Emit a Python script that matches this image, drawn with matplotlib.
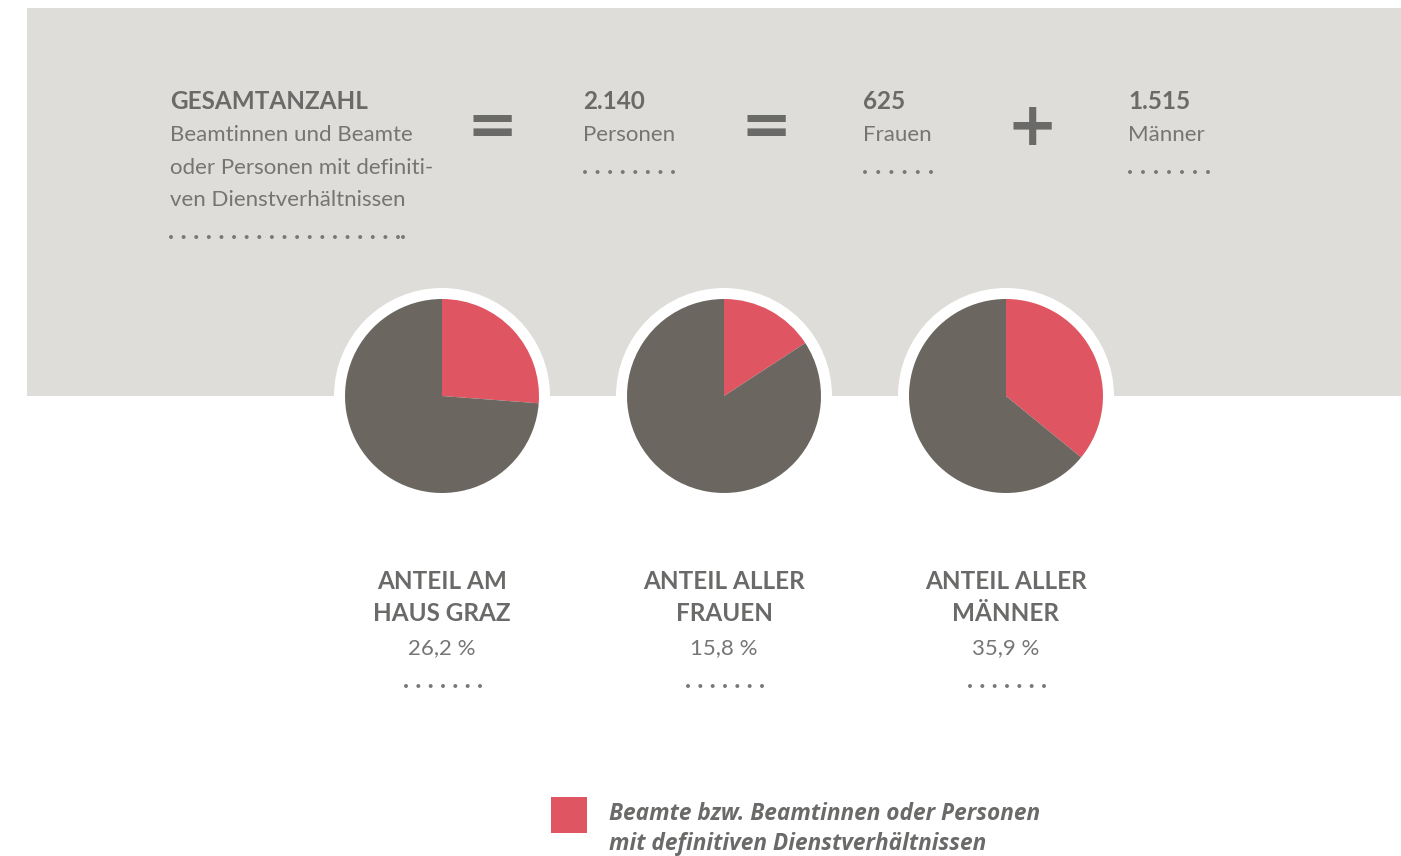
import numpy as np
import matplotlib
matplotlib.use("Agg")
import matplotlib.pyplot as plt
from matplotlib.patches import Rectangle, Circle

# ---------------- data ----------------
total_label = "GESAMTANZAHL"
total_desc = ["Beamtinnen und Beamte", "oder Personen mit definiti-", "ven Dienstverhältnissen"]
count_values = ["2.140", "625", "1.515"]
count_labels = ["Personen", "Frauen", "Männer"]
operators = ["=", "=", "+"]
pie_titles = [["ANTEIL AM", "HAUS GRAZ"], ["ANTEIL ALLER", "FRAUEN"], ["ANTEIL ALLER", "MÄNNER"]]
pie_shares = [26.2, 15.8, 35.9]
pie_share_labels = ["26,2 %", "15,8 %", "35,9 %"]
legend_lines = ["Beamte bzw. Beamtinnen oder Personen", "mit definitiven Dienstverhältnissen"]

# ---------------- style ----------------
W, H = 1401, 856
RED = "#e05562"
GREY = "#6b6760"
BG = "#dfddd9"
TXT_B = "#6a6a69"
TXT = "#767573"
DOT = "#7a7875"
FONT = "Lato"

fig = plt.figure(figsize=(W / 100, H / 100), dpi=100)
ax = fig.add_axes([0, 0, 1, 1])

def Y(y):
    return H - y

# grey band
ax.add_patch(Rectangle((27, Y(396)), W - 27, 396 - 8, facecolor=BG, edgecolor="none", zorder=0))

def dots(x0, x1, y, n):
    xs = np.linspace(x0, x1, n)
    ax.scatter(xs, np.full(n, Y(y)), s=8, color=DOT, edgecolors="none", zorder=3)

# top block
ax.text(170, Y(109), total_label, fontsize=17.5, fontweight="bold", color=TXT_B, family=FONT, va="baseline")
for i, line in enumerate(total_desc):
    ax.text(170, Y(141 + 32.5 * i), line, fontsize=16, color=TXT, family=FONT, va="baseline")
dots(171, 398, 237, 19)
ax.scatter([403], [Y(237)], s=8, color=DOT, edgecolors="none", zorder=3)

count_x = [583, 863, 1128]
dot_spans = [(585, 673, 8), (865, 931, 6), (1130, 1208, 7)]
for x, v, lab, (d0, d1, n) in zip(count_x, count_values, count_labels, dot_spans):
    ax.text(x, Y(109), v, fontsize=17.5, fontweight="bold", color=TXT_B, family=FONT, va="baseline")
    ax.text(x, Y(141), lab, fontsize=16, color=TXT, family=FONT, va="baseline")
    dots(d0, d1, 172, n)

op_x = [492, 766, 1032]
for x, op in zip(op_x, operators):
    ax.text(x, Y(122), op, fontsize=44, fontweight="bold", color=TXT_B, family="DejaVu Sans",
            ha="center", va="center_baseline")

# pies
pie_x = [442, 724, 1006]
pie_y = 396
R = 97
for x, share in zip(pie_x, pie_shares):
    ax.add_patch(Circle((x, Y(pie_y)), 108, facecolor="white", edgecolor="none", zorder=1))
    wedges, _ = ax.pie([share, 100 - share], colors=[RED, GREY], startangle=90, counterclock=False,
                       center=(x, Y(pie_y)), radius=R, frame=True,
                       wedgeprops=dict(linewidth=0))
    for w in wedges:
        w.set_zorder(2)

# pie labels
for x, (t1, t2), lab in zip(pie_x, pie_titles, pie_share_labels):
    ax.text(x, Y(589), t1, fontsize=17.5, fontweight="bold", color=TXT_B, family=FONT, ha="center", va="baseline")
    ax.text(x, Y(621), t2, fontsize=17.5, fontweight="bold", color=TXT_B, family=FONT, ha="center", va="baseline")
    ax.text(x, Y(654), lab, fontsize=16, color=TXT, family=FONT, ha="center", va="baseline")
    dots(x - 36, x + 38, 686, 7)

# legend
ax.add_patch(Rectangle((551, Y(833)), 36, 36, facecolor=RED, edgecolor="none", zorder=2))
for i, line in enumerate(legend_lines):
    ax.text(609, Y(820 + 30 * i), line, fontsize=16.3, fontweight="bold", fontstyle="italic",
            color=TXT_B, family="Open Sans", va="baseline")

ax.set_xlim(0, W)
ax.set_ylim(0, H)
ax.set_aspect("auto")
ax.axis("off")

fig.savefig("out.png", dpi=100, facecolor="white")
